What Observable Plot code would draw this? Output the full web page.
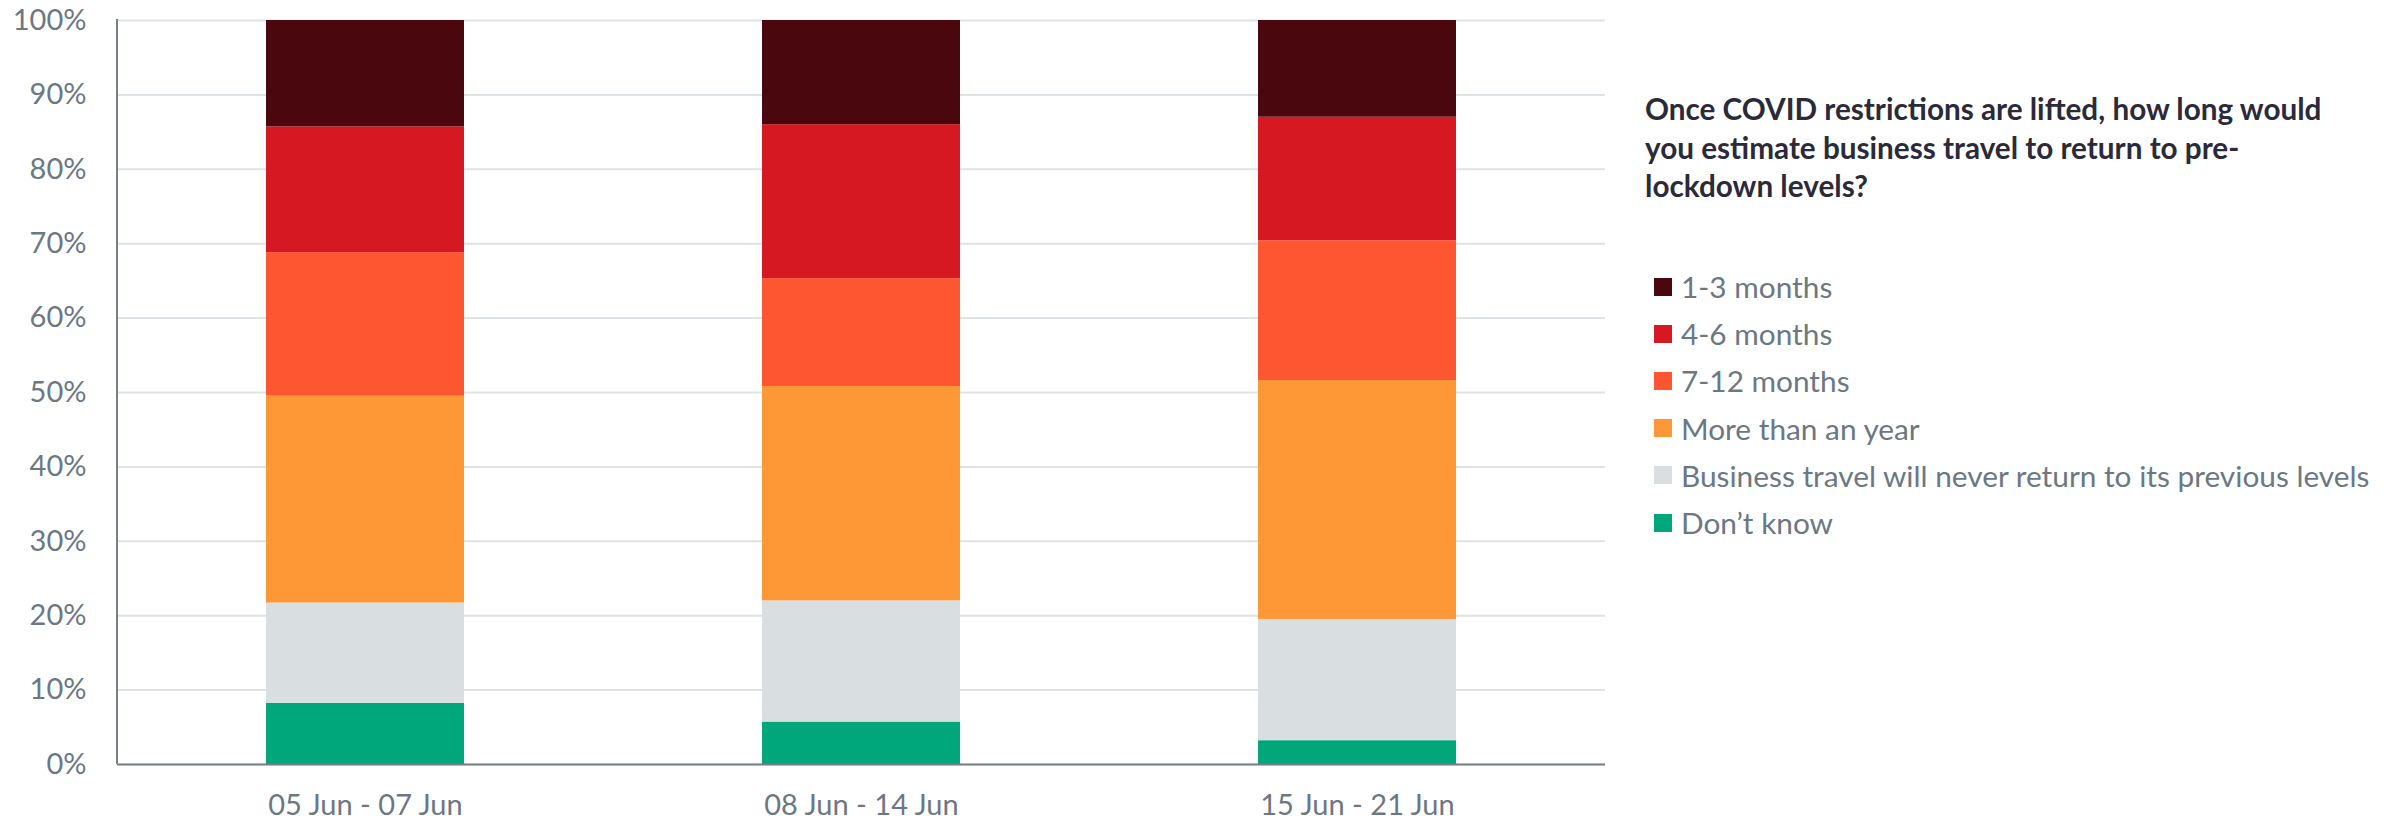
<!DOCTYPE html>
<html>
<head>
<meta charset="utf-8">
<script src="https://cdn.jsdelivr.net/npm/d3@7"></script>
<script src="https://cdn.jsdelivr.net/npm/@observablehq/plot@0.6"></script>
<style>
  html, body { margin: 0; padding: 0; background: #ffffff; }
  #wrap { position: relative; width: 2399px; height: 822px; overflow: hidden; }
  #chart { position: absolute; left: 0; top: 0; }
  #side { position: absolute; left: 1645px; top: 90px; font-family: Lato, "Open Sans", sans-serif; }
  #side h2 { margin: 0; font-size: 29.7px; line-height: 38.5px; font-weight: 700; color: #2b2a3a; }
  #legend { position: absolute; left: 9px; top: 173px; }
  .item { display: flex; align-items: center; height: 47.2px; white-space: nowrap; }
  .sw { width: 18px; height: 18px; margin-right: 9px; flex: none; }
  .lab { font-size: 29.8px; line-height: 47.2px; color: #6b7884; }
</style>
</head>
<body>
<div id="wrap">
  <div id="chart"></div>
  <div id="side">
    <h2>Once COVID restrictions are lifted, how long would<br>you estimate business travel to return to pre-<br>lockdown levels?</h2>
    <div id="legend"></div>
  </div>
</div>
<script>
// Survey periods (x axis)
const periods = ["05 Jun - 07 Jun", "08 Jun - 14 Jun", "15 Jun - 21 Jun"];

// Answer categories, listed top of stack first (legend order)
const categories = [
  "1-3 months",
  "4-6 months",
  "7-12 months",
  "More than an year",
  "Business travel will never return to its previous levels",
  "Don’t know"
];
const colors = ["#4a080e", "#d61823", "#ff5632", "#fe9836", "#d9dee1", "#00a77b"];

// Share of respondents (%) per period
const oneToThree    = [14.3, 14.0, 13.0];
const fourToSix     = [16.9, 20.7, 16.6];
const sevenToTwelve = [19.3, 14.5, 18.8];
const moreThanYear  = [27.8, 28.8, 32.1];
const neverReturn   = [13.5, 16.3, 16.3];
const dontKnow      = [8.2, 5.7, 3.2];

// y-axis ticks (percent)
const yTicks = [0, 10, 20, 30, 40, 50, 60, 70, 80, 90, 100];

const seriesValues = [oneToThree, fourToSix, sevenToTwelve, moreThanYear, neverReturn, dontKnow];

// Long table, bottom of the stack first
const rows = [];
for (let s = categories.length - 1; s >= 0; s--) {
  periods.forEach((p, i) => rows.push({period: p, category: categories[s], value: seriesValues[s][i]}));
}

const W = 1640, H = 822;
const mL = 117, mR = 35, mT = 20, mB = 58;

const chart = Plot.plot({
  width: W,
  height: H,
  marginLeft: mL,
  marginRight: mR,
  marginTop: mT,
  marginBottom: mB,
  style: {fontFamily: "Lato, 'Open Sans', sans-serif", fontSize: "29px", color: "#6b7884", background: "#ffffff"},
  x: {domain: periods, paddingInner: 0.6, paddingOuter: 0.3, label: null},
  y: {domain: [0, 100], label: null},
  color: {domain: categories, range: colors},
  marks: [
    Plot.gridY(yTicks, {stroke: "#dde2e6", strokeOpacity: 1, strokeWidth: 2}),
    Plot.barY(rows, {x: "period", y: "value", fill: "category"}),
    Plot.ruleY([0], {stroke: "#787f87", strokeWidth: 2}),
    Plot.axisY(yTicks, {tickSize: 0, tickPadding: 31, tickFormat: d => d + "%", label: null}),
    Plot.axisX({tickSize: 0, tickPadding: 30, label: null})
  ]
});

// Left axis line along the value scale
const ys = chart.scale("y");
d3.select(chart).append("line")
  .attr("x1", mL).attr("x2", mL)
  .attr("y1", ys.apply(100) - 1).attr("y2", ys.apply(0))
  .attr("stroke", "#787f87").attr("stroke-width", 2);

document.getElementById("chart").appendChild(chart);

// Legend
const legend = d3.select("#legend");
categories.forEach((c, i) => {
  const item = legend.append("div").attr("class", "item");
  item.append("div").attr("class", "sw").style("background", colors[i]);
  item.append("div").attr("class", "lab").text(c);
});
</script>
</body>
</html>
